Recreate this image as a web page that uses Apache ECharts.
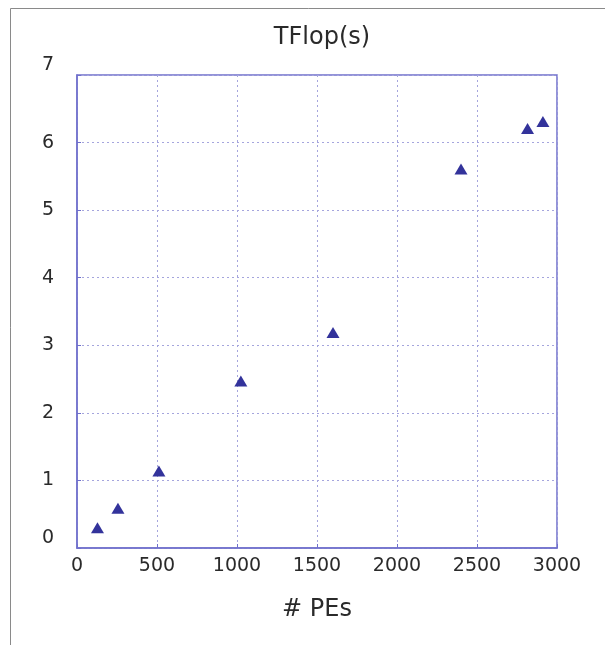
<!DOCTYPE html>
<html>
<head>
<meta charset="utf-8">
<script src="https://cdn.jsdelivr.net/npm/echarts@6/dist/echarts.min.js"></script>
<style>
html,body{margin:0;padding:0;background:#fff;}
#chart{width:605px;height:645px;}
</style>
</head>
<body>
<div id="chart"></div>
<script>
var titleText = 'TFlop(s)';
var xAxisName = '# PEs';
var pes = [128, 256, 512, 1024, 1600, 2400, 2816, 2912];
var tflops = [0.30, 0.59, 1.14, 2.47, 3.19, 5.61, 6.21, 6.31];
var xTicks = [0, 500, 1000, 1500, 2000, 2500, 3000];
var yTicks = [0, 1, 2, 3, 4, 5, 6, 7];

var chart = echarts.init(document.getElementById('chart'), null, {renderer: 'canvas'});
var points = pes.map(function (p, i) { return [p, tflops[i]]; });
var fontFam = 'DejaVu Sans';
var axisColor = '#7070cc';
var gridColor = '#a5a5dd';

chart.setOption({
  backgroundColor: '#ffffff',
  animation: false,
  title: {
    text: titleText,
    left: 317,
    top: 21,
    textAlign: 'center',
    textStyle: {fontFamily: fontFam, fontSize: 24, fontWeight: 'normal', color: '#2a2a2a'}
  },
  graphic: [{
    type: 'rect',
    shape: {x: 10.5, y: 8.5, width: 700, height: 700},
    style: {fill: 'none', stroke: '#8a8a8a', lineWidth: 1},
    silent: true
  }],
  grid: {
    left: 77, right: 48, top: 75, bottom: 97, containLabel: false,
    show: true, borderColor: axisColor, borderWidth: 1.5, backgroundColor: 'transparent'
  },
  xAxis: {
    type: 'value',
    min: xTicks[0],
    max: xTicks[xTicks.length - 1],
    interval: 500,
    name: xAxisName,
    nameLocation: 'middle',
    nameGap: 50,
    nameTextStyle: {fontFamily: fontFam, fontSize: 24, color: '#2a2a2a'},
    axisLine: {show: true, lineStyle: {color: axisColor, width: 1.5}},
    axisTick: {show: true, inside: true, length: 4, lineStyle: {color: axisColor}},
    axisLabel: {
      margin: 9, fontFamily: fontFam, fontSize: 19, color: '#2a2a2a',
      formatter: function (v) { return String(v); }
    },
    splitLine: {show: true, lineStyle: {color: gridColor, type: [2, 3], width: 1}}
  },
  yAxis: {
    type: 'value',
    min: yTicks[0],
    max: yTicks[yTicks.length - 1],
    interval: 1,
    axisLine: {show: true, lineStyle: {color: axisColor, width: 1.5}},
    axisTick: {show: true, inside: true, length: 4, lineStyle: {color: axisColor}},
    axisLabel: {
      margin: 23, fontFamily: fontFam, fontSize: 19, color: '#2a2a2a',
      verticalAlignMinLabel: 'bottom', verticalAlignMaxLabel: 'bottom'
    },
    splitLine: {show: true, lineStyle: {color: gridColor, type: [2, 3], width: 1}}
  },
  series: [{
    type: 'scatter',
    symbol: 'triangle',
    symbolSize: [13, 11],
    itemStyle: {color: '#33339b', opacity: 1},
    data: points
  }]
});
</script>
</body>
</html>
